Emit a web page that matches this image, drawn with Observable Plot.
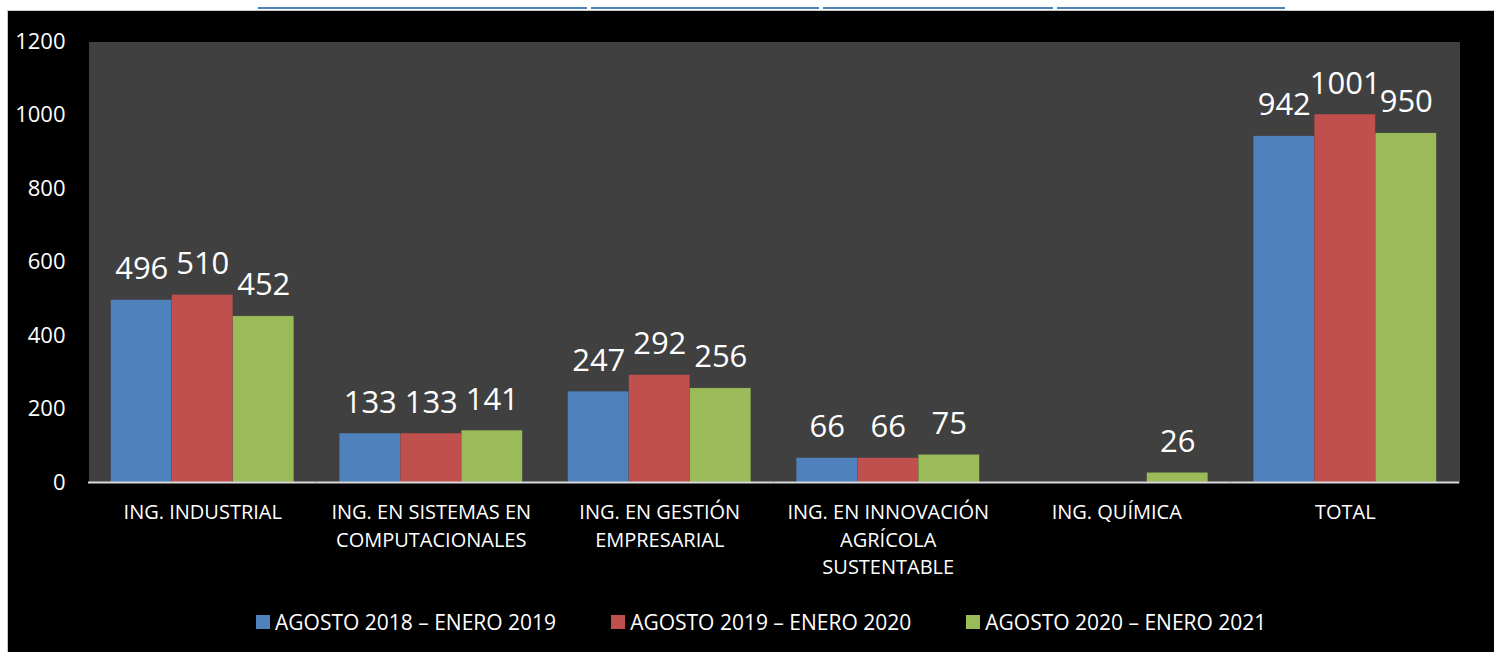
<!DOCTYPE html>
<html>
<head>
<meta charset="utf-8">
<script src="https://cdn.jsdelivr.net/npm/d3@7"></script>
<script src="https://cdn.jsdelivr.net/npm/@observablehq/plot@0.6"></script>
<style>
  html, body { margin: 0; padding: 0; background: #ffffff; overflow: hidden; }
  body { width: 1494px; height: 652px; position: relative; font-family: "Open Sans", sans-serif; }
  .topline { position: absolute; top: 7px; height: 2px; background: #4f81bd; }
  #frame { position: absolute; left: 7px; top: 10px; width: 1487px; height: 642px; background: #000; border-top: 1px solid #c8c8c8; border-left: 1px solid #c8c8c8; }
  #chart { position: absolute; left: 0; top: 0; }
  #legend { position: absolute; left: 248px; top: 597px; display: flex; align-items: center; color: #fff; font-size: 21px; white-space: nowrap; }
  .item { display: flex; align-items: center; margin-right: 55px; }
  .sw { width: 14px; height: 14px; margin-right: 5px; }
</style>
</head>
<body>
<div class="topline" style="left:258px;width:329px"></div>
<div class="topline" style="left:591px;width:228px"></div>
<div class="topline" style="left:823px;width:230px"></div>
<div class="topline" style="left:1057px;width:228px"></div>
<div id="frame">
  <div id="chart"></div>
  <div id="legend"></div>
</div>
<script>
const categories = [
  "ING. INDUSTRIAL",
  "ING. EN SISTEMAS EN\nCOMPUTACIONALES",
  "ING. EN GESTIÓN\nEMPRESARIAL",
  "ING. EN INNOVACIÓN\nAGRÍCOLA\nSUSTENTABLE",
  "ING. QUÍMICA",
  "TOTAL"
];
const series = ["AGOSTO 2018 – ENERO 2019", "AGOSTO 2019 – ENERO 2020", "AGOSTO 2020 – ENERO 2021"];
const values2018 = [496, 133, 247, 66, null, 942];
const values2019 = [510, 133, 292, 66, null, 1001];
const values2020 = [452, 141, 256, 75, 26, 950];
const colors = ["#4f81bd", "#c0504d", "#9bbb59"];
const yTicks = [0, 200, 400, 600, 800, 1000, 1200];

const seriesValues = [values2018, values2019, values2020];
const data = [];
categories.forEach((c, i) => {
  series.forEach((s, j) => {
    const v = seriesValues[j][i];
    if (v != null) data.push({category: c, series: s, value: v});
  });
});

const chart = Plot.plot({
  width: 1487,
  height: 580,
  marginLeft: 80,
  marginRight: 36,
  marginTop: 30,
  marginBottom: 109,
  style: {background: "transparent", color: "#fff", fontFamily: "Open Sans, sans-serif"},
  fx: {domain: categories, padding: 0, round: false, label: null},
  x: {domain: series, paddingInner: 0, paddingOuter: 0.373, round: false, axis: null},
  y: {domain: [0, 1200], label: null},
  color: {domain: series, range: colors},
  marks: [
    Plot.frame({fill: "#404040", stroke: "none", shapeRendering: "crispEdges"}),
    Plot.barY(data, {fx: "category", x: "series", y: "value", fill: "series", stroke: "#3a3a3a", strokeOpacity: 0.3, strokeWidth: 0.5}),
    Plot.ruleY([0], {stroke: "#d9d9d9", strokeWidth: 2}),
    Plot.text(data, {fx: "category", x: "series", y: "value", text: d => String(d.value), dy: -31, fill: "#fff", fontSize: 31, lineAnchor: "middle"}),
    Plot.axisY({ticks: yTicks, tickFormat: "d", tickSize: 0, tickPadding: 23, fontSize: 22, fill: "#fff", label: null}),
    Plot.axisFx({anchor: "bottom", tickSize: 0, tickPadding: 17, fontSize: 20, lineHeight: 1.375, fill: "#fff", label: null})
  ]
});
document.getElementById("chart").appendChild(chart);

const legend = document.getElementById("legend");
series.forEach((s, j) => {
  const item = document.createElement("div");
  item.className = "item";
  const sw = document.createElement("span");
  sw.className = "sw";
  sw.style.background = colors[j];
  const t = document.createElement("span");
  t.textContent = s;
  item.appendChild(sw);
  item.appendChild(t);
  legend.appendChild(item);
});
</script>
</body>
</html>
